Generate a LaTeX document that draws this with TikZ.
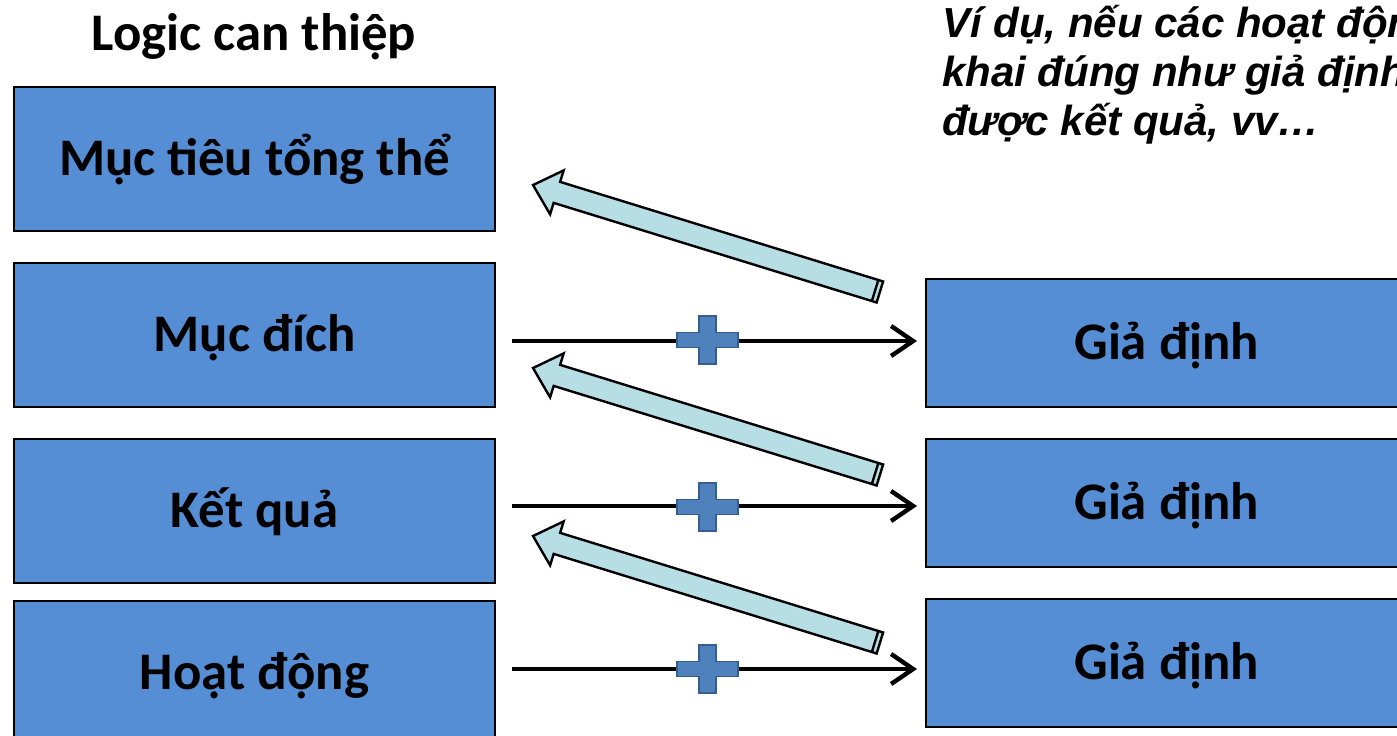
\documentclass[tikz,border=0pt]{standalone}
\usepackage{fontspec}
\setmainfont{Carlito}
\newfontfamily\notefont{Liberation Sans}
\usepackage{tikz}
\usetikzlibrary{arrows.meta}
\usetikzlibrary{positioning}
\definecolor{boxblue}{RGB}{85,142,213}
\definecolor{plusblue}{RGB}{79,129,189}
\definecolor{plusedge}{RGB}{56,93,138}
\definecolor{liftblue}{RGB}{183,222,228}
\tikzset{
  logicbox/.style={draw=black, line width=1pt, fill=boxblue,
    minimum width=240.5pt, minimum height=72pt, inner sep=0pt,
    text height=20pt, text depth=4pt,
    font=\fontsize{26.4}{32}\selectfont\bfseries},
  assumbox/.style={logicbox, minimum height=64pt},
  flow/.style={->, line width=2.2pt},
  plusmark/.style={fill=plusblue, draw=plusedge, line width=0.8pt},
  liftarrow/.style={fill=liftblue, draw=black, line width=1.2pt}
}

\begin{document}
\begin{tikzpicture}[>={Straight Barb[length=11pt,width=15pt]},
      x=0.5pt, y=-0.5pt,
      node distance=15pt]

    \path[use as bounding box, fill=white] (0,0) rectangle (1397,735);

    % left column
    \node[font=\fontsize{26.4}{32}\selectfont\bfseries, anchor=base]
      (Title) at (254,50) {Logic can thiệp};
    \node[logicbox]
      (Goal) at (254.5,159) {Mục tiêu tổng thể};
    \node[logicbox]
      (Purpose) [below=of Goal] {Mục đích};
    \node[logicbox]
      (Result) [below=of Purpose] {Kết quả};
    \node[logicbox]
      (Activity) [below=8pt of Result] {Hoạt động};

    % right column
    \node[anchor=base west, align=left,
      font=\notefont\bfseries\itshape\fontsize{21}{24.5}\selectfont]
      (Note) at (935,135) {Ví dụ, nếu các hoạt động\\khai đúng như giả định\\được kết quả, vv…};
    \node[assumbox]
      (AssumA) at (1166.5,343) {Giả định};
    \node[assumbox]
      (AssumB) [below=of AssumA] {Giả định};
    \node[assumbox]
      (AssumC) [below=of AssumB] {Giả định};

    % horizontal links
    \coordinate (StartA) at (512,341);
    \coordinate (StartB) at (512,506);
    \coordinate (StartC) at (512,669);
    \draw[flow, shorten >=4pt] (StartA) -- (AssumA.west |- StartA);
    \draw[flow, shorten >=4pt] (StartB) -- (AssumB.west |- StartB);
    \draw[flow, shorten >=4pt] (StartC) -- (AssumC.west |- StartC);

    % plus signs
    \foreach \py in {340,507,669}
      \draw[plusmark, shift={(707.5,\py)}]
        (-8.5,-24) -- (8.5,-24) -- (8.5,-7.5) -- (30.5,-7.5) -- (30.5,7.5)
        -- (8.5,7.5) -- (8.5,24) -- (-8.5,24) -- (-8.5,7.5) -- (-30.5,7.5)
        -- (-30.5,-7.5) -- (-8.5,-7.5) -- cycle;

    % block arrows
    \foreach \ay in {185,368,536} {
      \draw[liftarrow, shift={(533,\ay)}, rotate=-17.14]
        (0,0) -- (25,-23) -- (25,-11) -- (363,-11) -- (363,11)
        -- (25,11) -- (25,23) -- cycle;
      \draw[liftarrow, shift={(533,\ay)}, rotate=-17.14]
        (358,-11) -- (358,11);
    }

  \end{tikzpicture}
\end{document}
